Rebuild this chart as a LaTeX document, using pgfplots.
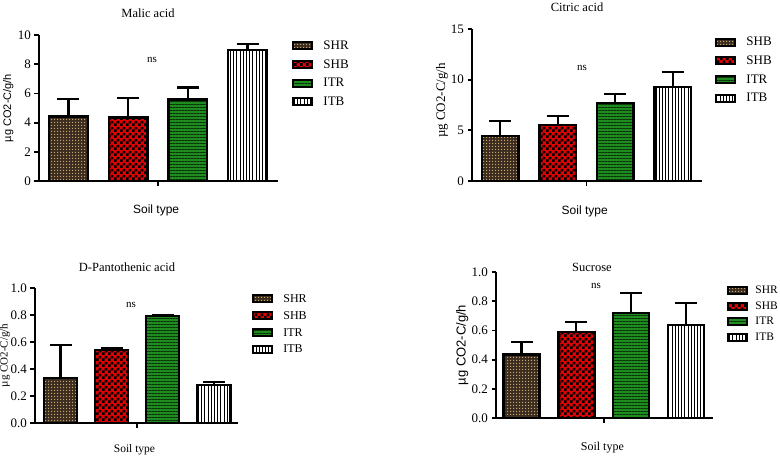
\documentclass[border=0pt]{standalone}
\usepackage{fontspec}
\setmainfont{Liberation Serif}
\setsansfont{Liberation Sans}
\usepackage{pgfplots}
\pgfplotsset{compat=1.18}
\usetikzlibrary{patterns,patterns.meta}

\definecolor{shrbg}{HTML}{3A2C1F}
\definecolor{shrdot}{HTML}{C9A46C}
\definecolor{shbred}{HTML}{E80000}
\definecolor{itrgreen}{HTML}{1E8C1E}
\definecolor{itrline}{HTML}{0A300A}

% small dot grid and big checkerboard fills
\pgfdeclarepatternformonly{dotgrid}{\pgfpointorigin}{\pgfqpoint{3pt}{3pt}}{\pgfqpoint{3pt}{3pt}}{%
  \pgfpathrectangle{\pgfpointorigin}{\pgfqpoint{1.4pt}{1.4pt}}\pgfusepath{fill}}
\pgfdeclarepatternformonly{checker}{\pgfpointorigin}{\pgfqpoint{6pt}{6pt}}{\pgfqpoint{6pt}{6pt}}{%
  \pgfpathrectangle{\pgfpointorigin}{\pgfqpoint{3pt}{3pt}}%
  \pgfpathrectangle{\pgfqpoint{3pt}{3pt}}{\pgfqpoint{3pt}{3pt}}\pgfusepath{fill}}

\tikzset{ttl/.style={font=\fontsize{12.5}{12.5}\selectfont, anchor=center},
  nsl/.style={font=\fontsize{11}{11}\selectfont, anchor=center}}
\def\lgap{27pt}

\pgfplotsset{
  boxlegend/.style={legend image code/.code={%
    \draw[##1, line width=2pt] (0pt,-3.5pt) rectangle (19pt,3.5pt); \path (\lgap,0pt);}},
  eb/.style={error bars/.cd, y dir=plus, y explicit,
    error bar style={line width=2.2pt, solid, black},
    error mark options={rotate=90, line width=2.2pt, mark size=11pt, solid, black}},
  shr/.style={draw=black, line width=2.3pt, fill=shrbg, postaction={pattern=dotgrid, pattern color=shrdot, draw=black}, boxlegend, eb},
  shb/.style={draw=black, line width=2.3pt, fill=shbred, postaction={pattern=checker, pattern color=black, draw=black}, boxlegend, eb},
  itr/.style={draw=black, line width=2.3pt, fill=itrgreen, postaction={pattern={Lines[angle=0,distance=3pt,line width=1pt]}, pattern color=itrline, draw=black}, boxlegend, eb},
  itb/.style={draw=black, line width=2.3pt, fill=white, postaction={pattern={Lines[angle=90,distance=3.2pt,line width=1pt]}, pattern color=black, draw=black}, boxlegend, eb},
  panel/.style={
    scale only axis, anchor=south west, clip=false,
    axis lines=left, axis line style={-, line width=2pt},
    ybar, ymin=0,
    xtick={2.5}, xticklabels={},
    tick align=outside, major tick length=4.5pt,
    tick style={line width=1.8pt, black},
    ticklabel style={font=\fontsize{13}{13}\selectfont},
    /pgf/number format/assume math mode=true,
    every axis plot/.append style={bar shift=0pt},
    ylabel style={anchor=center, font=\fontsize{11}{11}\selectfont},
    xlabel style={anchor=center, font=\sffamily\fontsize{11.5}{12}\selectfont},
    legend style={anchor=north west, draw=none, fill=none, inner sep=0pt,
      font=\fontsize{13}{13}\selectfont, row sep=4.5pt},
    legend cell align=left,
  },
}

\begin{document}
\begin{tikzpicture}
\useasboundingbox (0,0) rectangle (780pt,-456pt);

% Malic acid
\begin{axis}[panel, at={(39pt,-181pt)}, width=239pt, height=146pt,
  xmin=0.506, xmax=4.51, ymax=10, ytick={0,2,4,6,8,10}, bar width=38.5pt,
  ylabel={µg CO2-C/g/h}, ylabel style={font=\sffamily\fontsize{11}{11}\selectfont, at={(axis description cs:-0.128,0.5)}},
  xlabel={Soil type}, xlabel style={font=\sffamily\fontsize{12}{12}\selectfont, at={(axis description cs:0.49,-0.2)}},
  legend style={at={(axis description cs:1.059,0.975)}}]
\addplot[shr] coordinates {(1,4.42) +- (0,1.21)};
\addplot[shb] coordinates {(2,4.35) +- (0,1.32)};
\addplot[itr] coordinates {(3,5.58) +- (0,0.82)};
\addplot[itb] coordinates {(4,8.95) +- (0,0.46)};
\legend{SHR,SHB,ITR,ITB}
\node[ttl] at (axis description cs:0.456,1.15) {Malic acid};
\node[nsl] at (axis description cs:0.473,0.829) {ns};
\end{axis}

% Citric acid
\begin{axis}[panel, at={(472pt,-181pt)}, width=230pt, height=152pt,
  xmin=0.51, xmax=4.51, ymax=15, ytick={0,5,10,15}, bar width=36.5pt,
  ylabel={µg CO2-C/g/h}, ylabel style={font=\fontsize{13}{13}\selectfont, at={(axis description cs:-0.13,0.53)}},
  xlabel={Soil type}, xlabel style={font=\sffamily\fontsize{12}{12}\selectfont, at={(axis description cs:0.49,-0.2)}},
  legend style={at={(axis description cs:1.057,0.96)}}]
\addplot[shr] coordinates {(1,4.45) +- (0,1.48)};
\addplot[shb] coordinates {(2,5.54) +- (0,0.89)};
\addplot[itr] coordinates {(3,7.68) +- (0,0.92)};
\addplot[itb] coordinates {(4,9.26) +- (0,1.52)};
\legend{SHB,SHB,ITR,ITB}
\node[ttl] at (axis description cs:0.457,1.145) {Citric acid};
\node[nsl] at (axis description cs:0.478,0.743) {ns};
\end{axis}

% D-Pantothenic acid
\begin{axis}[panel, at={(35pt,-423pt)}, width=203pt, height=135pt,
  xmin=0.5, xmax=4.47, ymax=1, ytick={0,0.2,0.4,0.6,0.8,1.0}, bar width=33pt,
  yticklabel style={/pgf/number format/.cd, fixed, fixed zerofill, precision=1},
  ylabel={µg CO2-C/g/h}, ylabel style={at={(axis description cs:-0.148,0.5)}},
  xlabel={Soil type}, xlabel style={font=\fontsize{11.5}{12}\selectfont, at={(axis description cs:0.49,-0.2)}},
  legend style={at={(axis description cs:1.069,0.97)}, font=\fontsize{12}{12}\selectfont, row sep=3.5pt}]
\addplot[shr] coordinates {(1,0.333) +- (0,0.242)};
\addplot[shb] coordinates {(2,0.543) +- (0,0.015)};
\addplot[itr] coordinates {(3,0.795) +- (0,0.007)};
\addplot[itb] coordinates {(4,0.279) +- (0,0.027)};
\legend{SHR,SHB,ITR,ITB}
\node[ttl] at (axis description cs:0.453,1.156) {D-Pantothenic acid};
\node[nsl] at (axis description cs:0.473,0.874) {ns};
\end{axis}

% Sucrose
\def\lgap{24pt}
\begin{axis}[panel, at={(496pt,-418pt)}, width=217pt, height=146pt,
  xmin=0.535, xmax=4.49, ymax=1, ytick={0,0.2,0.4,0.6,0.8,1.0}, bar width=36pt,
  yticklabel style={/pgf/number format/.cd, fixed, fixed zerofill, precision=1},
  ylabel={µg CO2-C/g/h}, ylabel style={font=\sffamily\fontsize{13}{13}\selectfont, at={(axis description cs:-0.155,0.5)}},
  xlabel={Soil type}, xlabel style={font=\fontsize{12}{12}\selectfont, at={(axis description cs:0.49,-0.205)}},
  legend style={at={(axis description cs:1.065,0.92)}, font=\fontsize{11.5}{12}\selectfont, row sep=2.5pt}]
\addplot[shr] coordinates {(1,0.434) +- (0,0.089)};
\addplot[shb] coordinates {(2,0.589) +- (0,0.071)};
\addplot[itr] coordinates {(3,0.717) +- (0,0.139)};
\addplot[itb] coordinates {(4,0.637) +- (0,0.148)};
\legend{SHR,SHB,ITR,ITB}
\node[ttl] at (axis description cs:0.442,1.034) {Sucrose};
\node[nsl] at (axis description cs:0.461,0.904) {ns};
\end{axis}
\end{tikzpicture}
\end{document}
